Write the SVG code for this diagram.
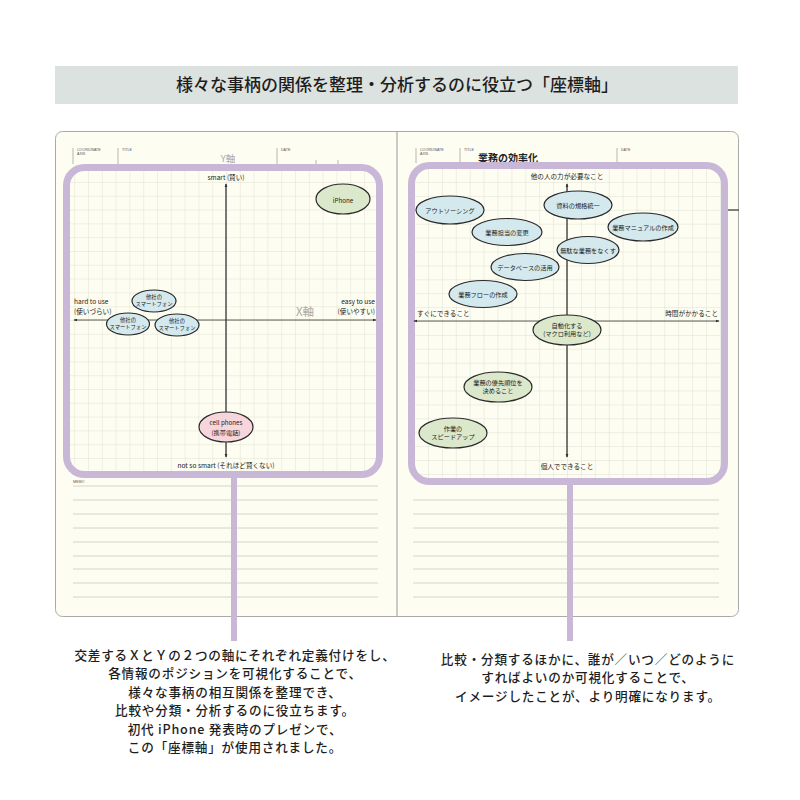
<svg xmlns="http://www.w3.org/2000/svg" width="800" height="800" viewBox="0 0 800 800">
<style>
.hd{font-family:"Liberation Sans",Arial,sans-serif;font-size:3.6px;fill:#555}
.lbl{font-family:"Noto Sans CJK JP","Noto Sans",sans-serif;font-size:6.6px;fill:#222}
.nt{font-family:"Noto Sans CJK JP","Noto Sans",sans-serif;font-size:6.2px;fill:#222;text-anchor:middle}
.sm{font-size:5.3px}
.ax{stroke:#333;stroke-width:0.8;fill:none}
.el{stroke:#2a2a2a;stroke-width:1.2}
.blue{fill:#d4e9ee}
.green{fill:#dbe8cb}
.pink{fill:#f6d6dc}
.frame{fill:url(#gridL);stroke:#c9b7d8;stroke-width:7}
.tick{stroke:#999;stroke-width:0.7}
.memo{stroke:#cfd0c6;stroke-width:0.9}
.cap{font-family:"Noto Sans CJK JP","Noto Sans",sans-serif;font-size:12.6px;letter-spacing:0.8px;fill:#1e1e1e;text-anchor:middle;font-weight:500}
.gray{font-family:"Noto Sans CJK JP","Noto Sans",sans-serif;fill:#aaa}
.conn{stroke:#c9b7d8;stroke-width:6;fill:none}
</style>
<defs>
<pattern id="gridL" patternUnits="userSpaceOnUse" x="226" y="320" width="13.8" height="13.8">
<path d="M0 0H13.8M0 0V13.8" stroke="#d9dace" stroke-width="0.8" fill="none"/>
</pattern>
<pattern id="gridR" patternUnits="userSpaceOnUse" x="567" y="321" width="13.9" height="13.9">
<path d="M0 0H13.9M0 0V13.9" stroke="#d9dace" stroke-width="0.8" fill="none"/>
</pattern>
<marker id="ah" viewBox="0 0 6 6" refX="5" refY="3" markerWidth="5" markerHeight="5" orient="auto-start-reverse">
<path d="M0 0.8L6 3L0 5.2z" fill="#333"/>
</marker>
</defs>
<rect width="800" height="800" fill="#ffffff"/>
<!-- title bar -->
<rect x="55" y="66" width="683" height="38" fill="#dce2df"/>
<text x="397" y="91" font-family="'Noto Sans CJK JP','Noto Sans',sans-serif" font-size="17" font-weight="500" fill="#1e1e1e" text-anchor="middle">様々な事柄の関係を整理・分析するのに役立つ「座標軸」</text>
<!-- notebook -->
<rect x="55.5" y="131.5" width="683" height="485" rx="7" fill="#fdfdf1" stroke="#aaaaaa" stroke-width="1"/>
<line x1="397" y1="132" x2="397" y2="616" stroke="#999" stroke-width="1"/>
<line x1="727" y1="210" x2="739" y2="210" stroke="#555" stroke-width="1.5"/>
<!-- headers -->
<g class="tick">
<line x1="73" y1="148" x2="73" y2="164"/><line x1="118" y1="148" x2="118" y2="164"/><line x1="277" y1="148" x2="277" y2="164"/>
<line x1="316" y1="160" x2="316" y2="164"/><line x1="338" y1="160" x2="338" y2="164"/>
<line x1="416" y1="148" x2="416" y2="163"/><line x1="460" y1="148" x2="460" y2="163"/><line x1="617" y1="148" x2="617" y2="163"/>
</g>
<text class="hd" x="77" y="151">COORDINATE</text><text class="hd" x="77" y="155">AXIS</text>
<text class="hd" x="122" y="151">TITLE</text><text class="hd" x="281" y="151">DATE</text>
<text class="hd" x="420" y="151">COORDINATE</text><text class="hd" x="420" y="155">AXIS</text>
<text class="hd" x="464" y="151">TITLE</text><text class="hd" x="621" y="151">DATE</text>
<text x="478" y="162" font-family="'Noto Sans CJK JP','Noto Sans',sans-serif" font-size="10" font-weight="bold" fill="#222">業務の効率化</text>
<text class="gray" x="228" y="162" font-size="9.5" text-anchor="middle">Y軸</text>
<!-- memo -->
<text class="hd" x="73" y="483">MEMO</text>
<g class="memo">
<line x1="73" y1="486" x2="378" y2="486"/><line x1="73" y1="500" x2="378" y2="500"/><line x1="73" y1="514" x2="378" y2="514"/><line x1="73" y1="528" x2="378" y2="528"/><line x1="73" y1="542" x2="378" y2="542"/><line x1="73" y1="556" x2="378" y2="556"/><line x1="73" y1="569" x2="378" y2="569"/><line x1="73" y1="583" x2="378" y2="583"/><line x1="73" y1="597" x2="378" y2="597"/>
<line x1="413" y1="500" x2="719" y2="500"/><line x1="413" y1="514" x2="719" y2="514"/><line x1="413" y1="528" x2="719" y2="528"/><line x1="413" y1="542" x2="719" y2="542"/><line x1="413" y1="556" x2="719" y2="556"/><line x1="413" y1="569" x2="719" y2="569"/><line x1="413" y1="583" x2="719" y2="583"/><line x1="413" y1="597" x2="719" y2="597"/>
</g>
<!-- connectors -->
<g id="connectors">
<line class="conn" x1="234" y1="478" x2="234" y2="641"/>
<line class="conn" x1="570" y1="485" x2="570" y2="641"/>
</g>
<!-- left frame -->
<g id="frame-left">
<rect class="frame" x="66.5" y="167.5" width="313" height="307" rx="18"/>
<line class="ax" x1="226" y1="457" x2="226" y2="184" marker-end="url(#ah)"/>
<line class="ax" x1="226" y1="184" x2="226" y2="457" marker-end="url(#ah)"/>
<line class="ax" x1="74" y1="320" x2="376" y2="320" marker-start="url(#ah)" marker-end="url(#ah)"/>
<text class="lbl" x="226" y="180" text-anchor="middle">smart (賢い)</text>
<text class="lbl" x="226" y="468" text-anchor="middle">not so smart (それほど賢くない)</text>
<text class="lbl" x="74" y="304">hard to use</text>
<text class="lbl" x="74" y="314">(使いづらい)</text>
<text class="lbl" x="375" y="304" text-anchor="end">easy to use</text>
<text class="lbl" x="375" y="314" text-anchor="end">(使いやすい)</text>
<text class="gray" x="305" y="316" font-size="11.5" text-anchor="middle">X軸</text>
</g>
<g id="node-iphone"><ellipse class="el green" cx="343" cy="199" rx="27" ry="15"/><text class="nt" x="343" y="202.5" font-size="9">iPhone</text></g>
<g id="node-smartphone-1"><ellipse class="el blue" cx="154" cy="301" rx="22" ry="11"/><text class="nt sm" x="154" y="299">他社の</text><text class="nt sm" x="154" y="306">スマートフォン</text></g>
<g id="node-smartphone-2"><ellipse class="el blue" cx="128" cy="324" rx="21.5" ry="11"/><text class="nt sm" x="128" y="322">他社の</text><text class="nt sm" x="128" y="329">スマートフォン</text></g>
<g id="node-smartphone-3"><ellipse class="el blue" cx="177" cy="325" rx="22" ry="11"/><text class="nt sm" x="177" y="323">他社の</text><text class="nt sm" x="177" y="330">スマートフォン</text></g>
<g id="node-cellphones"><ellipse class="el pink" cx="226" cy="427" rx="27" ry="15"/><text class="nt" x="226" y="425" font-size="7.5">cell phones</text><text class="nt" x="226" y="434.5" font-size="7">(携帯電話)</text></g>
<!-- right frame -->
<g id="frame-right">
<rect class="frame" x="411.5" y="165.5" width="313" height="316" rx="18" style="fill:url(#gridR)"/>
<line class="ax" x1="567" y1="457" x2="567" y2="184" marker-end="url(#ah)"/>
<line class="ax" x1="567" y1="184" x2="567" y2="457" marker-end="url(#ah)"/>
<line class="ax" x1="414" y1="321" x2="719" y2="321" marker-start="url(#ah)" marker-end="url(#ah)"/>
<text class="lbl" x="567" y="179" text-anchor="middle">他の人の力が必要なこと</text>
<text class="lbl" x="567" y="469" text-anchor="middle">個人でできること</text>
<text class="lbl" x="417" y="316">すぐにできること</text>
<text class="lbl" x="718" y="316" text-anchor="end">時間がかかること</text>
</g>
<g id="node-outsourcing"><ellipse class="el blue" cx="450" cy="210" rx="34" ry="14"/><text class="nt" x="450" y="212.5">アウトソーシング</text></g>
<g id="node-standardize"><ellipse class="el blue" cx="578" cy="205" rx="34" ry="14"/><text class="nt" x="578" y="207.5">資料の規格統一</text></g>
<g id="node-change-staff"><ellipse class="el blue" cx="507" cy="232" rx="35" ry="13.5"/><text class="nt" x="507" y="234.5">業務担当の変更</text></g>
<g id="node-manual"><ellipse class="el blue" cx="643" cy="227" rx="35" ry="14"/><text class="nt" x="643" y="229.5">業務マニュアルの作成</text></g>
<g id="node-waste"><ellipse class="el blue" cx="588" cy="250" rx="31" ry="13.5"/><text class="nt" x="588" y="252.5">無駄な業務をなくす</text></g>
<g id="node-database"><ellipse class="el blue" cx="525" cy="267" rx="34" ry="13.5"/><text class="nt" x="525" y="269.5">データベースの活用</text></g>
<g id="node-flow"><ellipse class="el blue" cx="483" cy="294" rx="34" ry="13.5"/><text class="nt" x="483" y="296.5">業務フローの作成</text></g>
<g id="node-automate"><ellipse class="el green" cx="567" cy="330" rx="34" ry="15"/><text class="nt" x="567" y="328">自動化する</text><text class="nt" x="567" y="336">(マクロ利用など)</text></g>
<g id="node-priority"><ellipse class="el green" cx="498" cy="387" rx="34" ry="15"/><text class="nt" x="498" y="385">業務の優先順位を</text><text class="nt" x="498" y="393">決めること</text></g>
<g id="node-speed"><ellipse class="el green" cx="453" cy="433" rx="34" ry="15"/><text class="nt" x="453" y="431">作業の</text><text class="nt" x="453" y="439">スピードアップ</text></g>
<!-- captions -->
<g>
<text class="cap" x="235" y="660">交差するＸとＹの２つの軸にそれぞれ定義付けをし、</text>
<text class="cap" x="235" y="678.4">各情報のポジションを可視化することで、</text>
<text class="cap" x="235" y="696.8">様々な事柄の相互関係を整理でき、</text>
<text class="cap" x="235" y="715.2">比較や分類・分析するのに役立ちます。</text>
<text class="cap" x="235" y="733.6">初代 iPhone 発表時のプレゼンで、</text>
<text class="cap" x="235" y="752">この「座標軸」が使用されました。</text>
<text class="cap" x="588" y="664">比較・分類するほかに、誰が／いつ／どのように</text>
<text class="cap" x="588" y="682.4">すればよいのか可視化することで、</text>
<text class="cap" x="588" y="700.8">イメージしたことが、より明確になります。</text>
</g>
</svg>
